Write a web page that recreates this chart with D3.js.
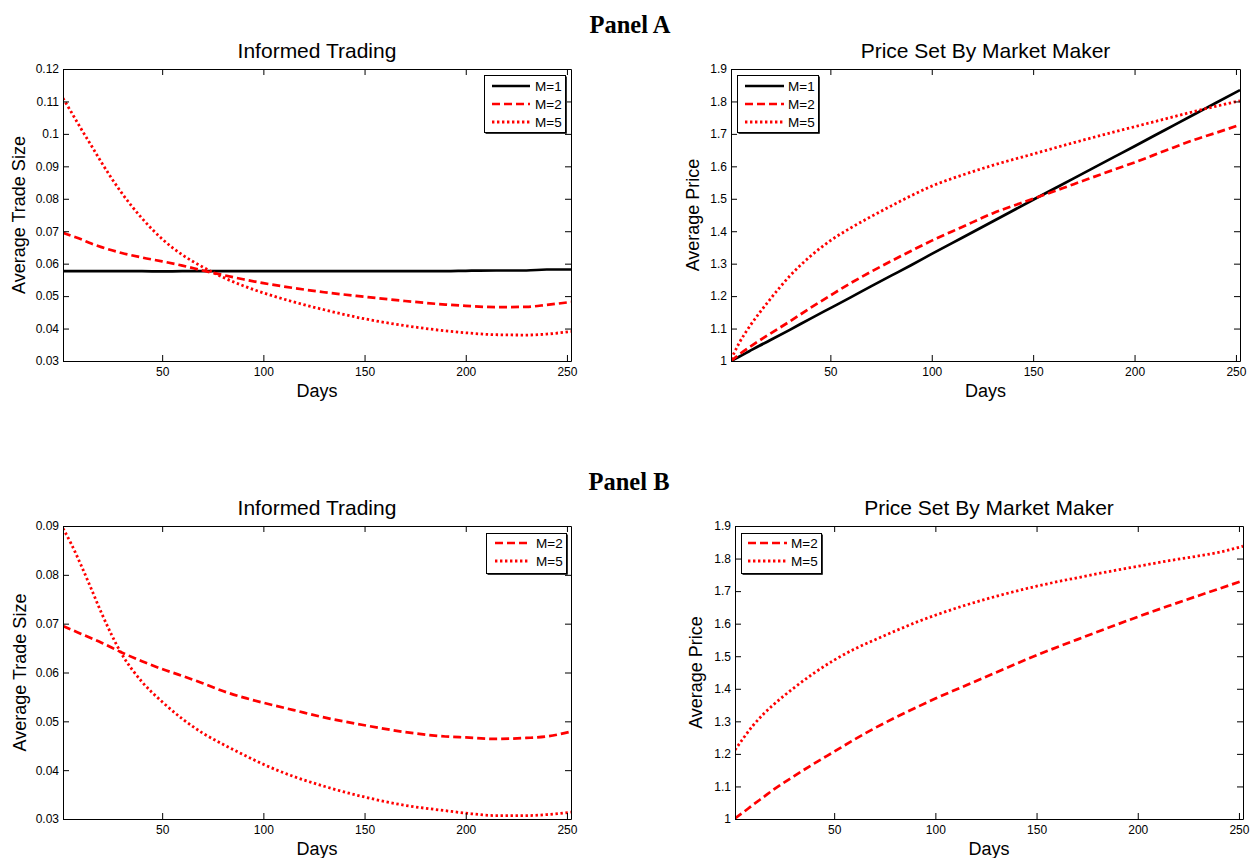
<!DOCTYPE html>
<html>
<head>
<meta charset="utf-8">
<script src="https://cdn.jsdelivr.net/npm/d3@7/dist/d3.min.js"></script>
<style>
  html, body { margin: 0; padding: 0; background: #fff; }
  svg { display: block; }
</style>
</head>
<body>
<svg id="chart" width="1250" height="858"></svg>
<script>
// ---------------- DATA ----------------
const days = [1, 5, 10, 15, 20, 30, 40, 50, 60, 70, 80, 90, 100, 115, 130, 150, 170, 190, 200, 215, 230, 240, 252];

// Panel A – Informed Trading (average trade size)
const tradeA_M1 = [0.0577, 0.0577, 0.0577, 0.0577, 0.0577, 0.0577, 0.0577, 0.0576, 0.0577, 0.0577, 0.0577, 0.0577, 0.0577, 0.0577, 0.0577, 0.0577, 0.0577, 0.0577, 0.0578, 0.0579, 0.0579, 0.0582, 0.0582];
const tradeA_M2 = [0.0695, 0.0686, 0.0675, 0.0662, 0.0651, 0.0633, 0.0619, 0.0607, 0.0594, 0.0579, 0.0565, 0.0552, 0.0540, 0.0525, 0.0512, 0.0498, 0.0485, 0.0474, 0.0470, 0.0466, 0.0467, 0.0473, 0.0482];
const tradeA_M5 = [0.1110, 0.1068, 0.1015, 0.0964, 0.0912, 0.0818, 0.0740, 0.0676, 0.0627, 0.0590, 0.0558, 0.0532, 0.0510, 0.0482, 0.0458, 0.0430, 0.0409, 0.0393, 0.0387, 0.0381, 0.0380, 0.0383, 0.0391];

// Panel A – Price set by market maker
const priceA_M1 = [1.000, 1.013, 1.030, 1.047, 1.063, 1.096, 1.130, 1.163, 1.196, 1.230, 1.263, 1.296, 1.330, 1.380, 1.430, 1.497, 1.563, 1.629, 1.662, 1.712, 1.762, 1.795, 1.835];
const priceA_M2 = [1.000, 1.020, 1.042, 1.063, 1.083, 1.122, 1.163, 1.202, 1.240, 1.275, 1.308, 1.340, 1.371, 1.413, 1.455, 1.500, 1.545, 1.590, 1.612, 1.648, 1.683, 1.703, 1.728];
const priceA_M5 = [1.005, 1.055, 1.105, 1.148, 1.188, 1.262, 1.322, 1.371, 1.410, 1.445, 1.478, 1.510, 1.539, 1.573, 1.603, 1.638, 1.673, 1.706, 1.722, 1.746, 1.770, 1.785, 1.802];

// Panel B – Informed Trading
const tradeB_M2 = [0.0695, 0.0688, 0.0679, 0.0670, 0.0661, 0.0641, 0.0623, 0.0607, 0.0593, 0.0578, 0.0562, 0.0549, 0.0538, 0.0523, 0.0508, 0.0492, 0.0478, 0.0469, 0.0467, 0.0464, 0.0466, 0.0469, 0.0479];
const tradeB_M5 = [0.0895, 0.0864, 0.0819, 0.0771, 0.0722, 0.0638, 0.0581, 0.0540, 0.0505, 0.0476, 0.0453, 0.0432, 0.0412, 0.0387, 0.0367, 0.0345, 0.0328, 0.0317, 0.0312, 0.0307, 0.0307, 0.0309, 0.0314];

// Panel B – Price set by market maker
const priceB_M2 = [1.002, 1.020, 1.044, 1.067, 1.090, 1.131, 1.170, 1.207, 1.244, 1.279, 1.311, 1.341, 1.370, 1.410, 1.450, 1.503, 1.551, 1.598, 1.621, 1.654, 1.686, 1.707, 1.732];
const priceB_M5 = [1.212, 1.247, 1.288, 1.322, 1.351, 1.402, 1.448, 1.488, 1.522, 1.550, 1.577, 1.603, 1.626, 1.657, 1.684, 1.715, 1.741, 1.765, 1.776, 1.793, 1.808, 1.819, 1.838];

// Axes
const dayDomain = [1, 252];
const xTicks = [50, 100, 150, 200, 250];
const xTickLabels = ["50", "100", "150", "200", "250"];
const tradeTicksA = [0.03, 0.04, 0.05, 0.06, 0.07, 0.08, 0.09, 0.10, 0.11, 0.12];
const tradeTickLabelsA = ["0.03", "0.04", "0.05", "0.06", "0.07", "0.08", "0.09", "0.1", "0.11", "0.12"];
const tradeTicksB = [0.03, 0.04, 0.05, 0.06, 0.07, 0.08, 0.09];
const tradeTickLabelsB = ["0.03", "0.04", "0.05", "0.06", "0.07", "0.08", "0.09"];
const priceTicks = [1.0, 1.1, 1.2, 1.3, 1.4, 1.5, 1.6, 1.7, 1.8, 1.9];
const priceTickLabels = ["1", "1.1", "1.2", "1.3", "1.4", "1.5", "1.6", "1.7", "1.8", "1.9"];

const panelTitles = ["Panel A", "Panel B"];
const subTitles = ["Informed Trading", "Price Set By Market Maker"];
const xLabel = "Days";
const yLabels = ["Average Trade Size", "Average Price"];
const seriesNames = ["M=1", "M=2", "M=5"];

// ---------------- STYLES ----------------
const styles = {
  "M=1": { stroke: "#000000", dash: null, width: 2.7 },
  "M=2": { stroke: "#ff0000", dash: "8,4", width: 2.7 },
  "M=5": { stroke: "#ff0000", dash: "2.4,2.6", width: 2.8 }
};
const SANS = "'Liberation Sans', Arial, sans-serif";
const SERIF = "'Liberation Serif', 'Times New Roman', serif";

const svg = d3.select("#chart");

// Panel headings
svg.append("text").attr("x", 630).attr("y", 32.5).attr("text-anchor", "middle")
  .style("font-family", SERIF).style("font-weight", "bold").style("font-size", "24.5px")
  .text(panelTitles[0]);
svg.append("text").attr("x", 629).attr("y", 490).attr("text-anchor", "middle")
  .style("font-family", SERIF).style("font-weight", "bold").style("font-size", "24.5px")
  .text(panelTitles[1]);

function drawPlot(cfg) {
  const { box, yDomain, yTicks, yTickLabels, title, ylab, ylabX, series, legend, id } = cfg;
  const x = d3.scaleLinear().domain(dayDomain).range([box.x0, box.x1]);
  const y = d3.scaleLinear().domain(yDomain).range([box.y1, box.y0]);
  const g = svg.append("g");

  svg.append("clipPath").attr("id", "clip" + id).append("rect")
    .attr("x", box.x0).attr("y", box.y0).attr("width", box.x1 - box.x0).attr("height", box.y1 - box.y0);

  const line = d3.line().x((d, i) => x(days[i])).y(d => y(d)).curve(d3.curveMonotoneX);
  const lg = g.append("g").attr("clip-path", `url(#clip${id})`);
  series.forEach(s => {
    const st = styles[s.name];
    lg.append("path").datum(s.values)
      .attr("d", line).attr("fill", "none")
      .attr("stroke", st.stroke).attr("stroke-width", st.width)
      .attr("stroke-dasharray", st.dash)
      .attr("stroke-linejoin", "round");
  });

  const tickLen = 6;
  const axB = g.append("g").attr("transform", `translate(0,${box.y1})`)
    .call(d3.axisBottom(x).tickValues(xTicks).tickFormat((d, i) => xTickLabels[i])
      .tickSizeInner(-tickLen).tickSizeOuter(0).tickPadding(6));
  const axT = g.append("g").attr("transform", `translate(0,${box.y0})`)
    .call(d3.axisTop(x).tickValues(xTicks).tickFormat("").tickSizeInner(-tickLen).tickSizeOuter(0));
  const axL = g.append("g").attr("transform", `translate(${box.x0},0)`)
    .call(d3.axisLeft(y).tickValues(yTicks).tickFormat((d, i) => yTickLabels[i])
      .tickSizeInner(-tickLen).tickSizeOuter(0).tickPadding(4));
  const axR = g.append("g").attr("transform", `translate(${box.x1},0)`)
    .call(d3.axisRight(y).tickValues(yTicks).tickFormat("").tickSizeInner(-tickLen).tickSizeOuter(0));
  [axB, axT, axL, axR].forEach(a => {
    a.selectAll("path.domain").attr("stroke", "#000").attr("stroke-width", 1);
    a.selectAll(".tick line").attr("stroke", "#000").attr("stroke-width", 1);
    a.selectAll("text").style("font-family", SANS).style("font-size", "12px").attr("fill", "#000");
  });

  g.append("text").attr("x", (box.x0 + box.x1) / 2).attr("y", box.y0 - 11.5)
    .attr("text-anchor", "middle").style("font-family", SANS).style("font-size", "21px")
    .text(title);
  g.append("text").attr("x", (box.x0 + box.x1) / 2).attr("y", box.y1 + 35.5)
    .attr("text-anchor", "middle").style("font-family", SANS).style("font-size", "18px")
    .text(xLabel);
  g.append("text").attr("transform", `translate(${ylabX},${(box.y0 + box.y1) / 2}) rotate(-90)`)
    .attr("text-anchor", "middle").style("font-family", SANS).style("font-size", "18px")
    .text(ylab);

  const L = legend;
  const lgG = g.append("g");
  lgG.append("rect").attr("x", L.x0 + 0.5).attr("y", L.y0 + 0.5)
    .attr("width", L.x1 - L.x0).attr("height", L.y1 - L.y0)
    .attr("fill", "#fff").attr("stroke", "#000").attr("stroke-width", 1);
  lgG.append("path")
    .attr("d", `M${L.x0 + 1.5},${L.y1 + 1.5}H${L.x1 + 1.5}V${L.y0 + 1.5}`)
    .attr("fill", "none").attr("stroke", "#333").attr("stroke-width", 1);
  series.forEach((s, i) => {
    const st = styles[s.name];
    const yy = L.rows[i];
    lgG.append("line").attr("x1", L.lx0).attr("x2", L.lx1).attr("y1", yy).attr("y2", yy)
      .attr("stroke", st.stroke).attr("stroke-width", st.width).attr("stroke-dasharray", st.dash);
    lgG.append("text").attr("x", L.tx).attr("y", yy).attr("dy", "0.36em")
      .style("font-family", SANS).style("font-size", "13.5px").text(s.name);
  });
}

drawPlot({
  id: "al",
  box: { x0: 63, x1: 571, y0: 69, y1: 361 },
  yDomain: [0.03, 0.12], yTicks: tradeTicksA, yTickLabels: tradeTickLabelsA,
  title: subTitles[0], ylab: yLabels[0], ylabX: 25,
  series: [{ name: seriesNames[0], values: tradeA_M1 }, { name: seriesNames[1], values: tradeA_M2 }, { name: seriesNames[2], values: tradeA_M5 }],
  legend: { x0: 484, x1: 565, y0: 75, y1: 132, rows: [86, 104, 122], lx0: 492, lx1: 530, tx: 535 }
});
drawPlot({
  id: "ar",
  box: { x0: 731, x1: 1240, y0: 69, y1: 361 },
  yDomain: [1, 1.9], yTicks: priceTicks, yTickLabels: priceTickLabels,
  title: subTitles[1], ylab: yLabels[1], ylabX: 699,
  series: [{ name: seriesNames[0], values: priceA_M1 }, { name: seriesNames[1], values: priceA_M2 }, { name: seriesNames[2], values: priceA_M5 }],
  legend: { x0: 737, x1: 818, y0: 75, y1: 132, rows: [86, 104, 122], lx0: 745, lx1: 784, tx: 788 }
});
drawPlot({
  id: "bl",
  box: { x0: 63, x1: 571, y0: 526, y1: 819 },
  yDomain: [0.03, 0.09], yTicks: tradeTicksB, yTickLabels: tradeTickLabelsB,
  title: subTitles[0], ylab: yLabels[0], ylabX: 26,
  series: [{ name: seriesNames[1], values: tradeB_M2 }, { name: seriesNames[2], values: tradeB_M5 }],
  legend: { x0: 486, x1: 566, y0: 533, y1: 573, rows: [543, 561], lx0: 495, lx1: 529, tx: 536 }
});
drawPlot({
  id: "br",
  box: { x0: 735, x1: 1243, y0: 526, y1: 819 },
  yDomain: [1, 1.9], yTicks: priceTicks, yTickLabels: priceTickLabels,
  title: subTitles[1], ylab: yLabels[1], ylabX: 702,
  series: [{ name: seriesNames[1], values: priceB_M2 }, { name: seriesNames[2], values: priceB_M5 }],
  legend: { x0: 741, x1: 821, y0: 533, y1: 573, rows: [543, 561], lx0: 748, lx1: 787, tx: 791 }
});
</script>
</body>
</html>
